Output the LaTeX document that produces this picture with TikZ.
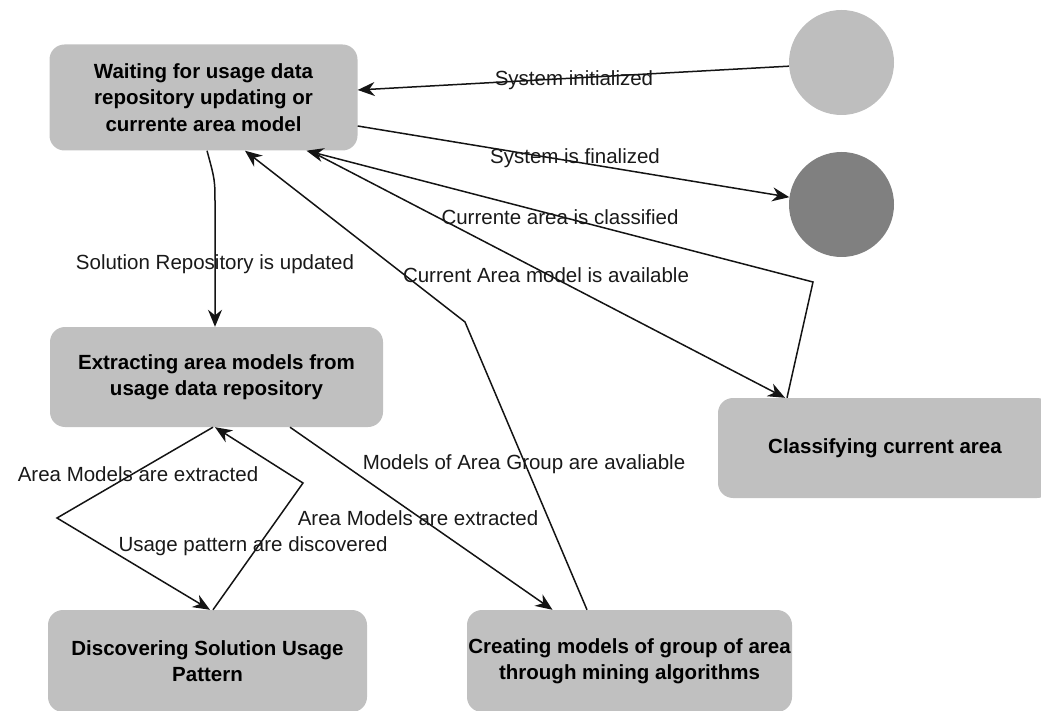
\documentclass[tikz,border=0pt]{standalone}
\usepackage{fontspec}
\setmainfont{Liberation Sans}
\usetikzlibrary{arrows.meta}
\definecolor{boxgray}{HTML}{C0C0C0}
\definecolor{initgray}{HTML}{BEBEBE}
\definecolor{finalgray}{HTML}{808080}
\definecolor{linegray}{HTML}{141414}
\tikzset{
  statebox/.style={rectangle, rounded corners=15pt, fill=boxgray, draw=none,
    align=center, inner sep=0pt,
    font=\bfseries\fontsize{20.5}{26.5}\selectfont},
  initstate/.style={circle, fill=initgray, draw=none, minimum size=105pt, inner sep=0pt},
  finalstate/.style={circle, fill=finalgray, draw=none, minimum size=105pt, inner sep=0pt},
  conn/.style={draw=linegray, line width=1.5pt, -{Stealth[length=17pt,width=14pt,inset=5.5pt]}},
  lbl/.style={inner sep=0pt, font=\fontsize{20.5}{24}\selectfont, text=black!90}
}
\begin{document}
\begin{tikzpicture}[x=1pt,y=-1pt]
\useasboundingbox (0,0) rectangle (1041,711);
\clip (0,0) rectangle (1041,711);

% states
\node[statebox, minimum width=308pt, minimum height=106pt] (wait) at (203.5,97.5)
  {Waiting for usage data\\repository updating or\\currente area model};
\node[statebox, minimum width=333pt, minimum height=100pt] (extract) at (216.5,377)
  {Extracting area models from\\usage data repository};
\node[statebox, minimum width=334pt, minimum height=100pt] (classify) at (885,448)
  {Classifying current area};
\node[statebox, minimum width=319pt, minimum height=102pt] (discover) at (207.5,661)
  {Discovering Solution Usage\\Pattern};
\node[statebox, minimum width=325pt, minimum height=102pt] (create) at (629.5,661)
  {Creating models of group of area\\through mining algorithms};
\node[initstate] (init) at (841.5,62.5) {};
\node[finalstate] (final) at (841.5,204.5) {};

% connectors
\draw[conn] (init.184) -- ([yshift=7.5pt]wait.east);
\draw[conn] ([yshift=-28.5pt]wait.east) -- (final.172);
\draw[conn] ([xshift=3.5pt]wait.south) .. controls (215,180) .. (215,205) -- ([xshift=-1.5pt]extract.north);
\draw[conn] ([xshift=-3.5pt]extract.south) -- (57,518) -- ([xshift=2.5pt]discover.north);
\draw[conn] ([xshift=5.5pt]discover.north) -- (303,483) -- ([xshift=-1.5pt]extract.south);
\draw[conn] ([xshift=73.5pt]extract.south) -- ([xshift=-77pt]create.north);
\draw[conn] ([xshift=-42.5pt]create.north) -- (465,322) -- ([xshift=41.5pt]wait.south);
\draw[conn] ([xshift=-98pt]classify.north) -- (813,282) -- ([xshift=103pt]wait.south);
\draw[conn] ([xshift=106pt]wait.south) -- ([xshift=-100pt]classify.north);

% labels
\node[lbl] (l1) at (574,80) {System initialized};
\node[lbl] (l2) at (575,158) {System is finalized};
\node[lbl] (l3) at (560,217) {Currente area is classified};
\node[lbl] (l4) at (546,275) {Current Area model is available};
\node[lbl] (l5) at (215,264) {Solution Repository is updated};
\node[lbl] (l6) at (138,474) {Area Models are extracted};
\node[lbl] (l7) at (253,546) {Usage pattern are discovered};
\node[lbl] (l8) at (524,464) {Models of Area Group are avaliable};
\node[lbl] (l9) at (418,518) {Area Models are extracted};
\end{tikzpicture}
\end{document}
